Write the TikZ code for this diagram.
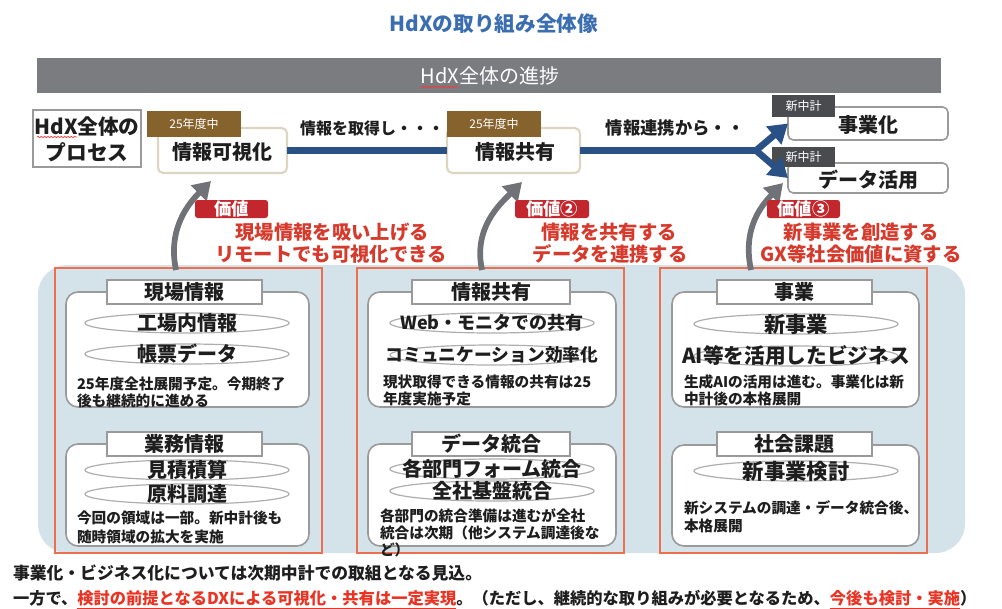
\documentclass[tikz,border=0pt]{standalone}
\usepackage{fontspec}
\setmainfont{Noto Sans CJK JP}
\usetikzlibrary{fit,arrows.meta,decorations.pathmorphing,shapes.geometric}
\definecolor{titleblue}{HTML}{3A6EB0}
\definecolor{bargray}{HTML}{7B7C80}
\definecolor{brownlab}{HTML}{86622C}
\definecolor{darklab}{HTML}{4A4B4F}
\definecolor{navy}{HTML}{2A5186}
\definecolor{arrowgray}{HTML}{6F7277}
\definecolor{valred}{HTML}{C1272D}
\definecolor{textred}{HTML}{D63A2C}
\definecolor{areablue}{HTML}{D4E3EA}
\definecolor{orangeline}{HTML}{EC7050}
\definecolor{beige}{HTML}{DDD5C2}
\definecolor{panelline}{HTML}{9A9A9A}
\definecolor{linkred}{HTML}{EA3323}
\definecolor{txt}{HTML}{1E1E1E}
\newcommand\fsz[2]{\fontsize{#1}{#2}\selectfont}
\tikzset{
 every node/.style={inner sep=0pt, outer sep=0pt, text=txt},
 boxfit/.style={inner sep=0pt},
 tag/.style={boxfit},
 tagtext/.style={text=white, font=\fsz{9}{10}},
 stepbox/.style={boxfit, draw=beige, line width=1.6pt, rounded corners=4pt, fill=white},
 outbox/.style={boxfit, draw=panelline, line width=1.2pt, fill=white},
 bigtext/.style={font=\fsz{15}{18}\bfseries},
 badge/.style={boxfit, fill=valred, rounded corners=2pt},
 badgetext/.style={text=white, font=\fsz{13}{14}\bfseries},
 valtext/.style={text=textred, font=\fsz{14.5}{17}\bfseries},
 column/.style={boxfit, draw=orangeline, line width=1pt},
 panel/.style={boxfit, draw=panelline, line width=1.2pt, rounded corners=9pt, fill=white},
 header/.style={boxfit, draw=panelline, line width=0.9pt, fill=white},
 oval/.style={ellipse, draw=panelline!80, line width=0.9pt, minimum width=153pt, minimum height=15pt, inner sep=0pt},
 ovaltext/.style={font=\fsz{15}{18}\bfseries},
 note/.style={anchor=west, font=\fsz{11}{13}\bfseries},
 uparrow/.style={draw=arrowgray, line width=4.3pt, -{Triangle[length=13pt,width=16pt]}},
 flow/.style={draw=navy, line width=5pt},
 flowhead/.style={flow, -{Triangle[length=14pt,width=17pt]}},
 wavy/.style={draw=red!80, line width=0.5pt, decorate, decoration={snake, amplitude=0.5pt, segment length=2.5pt}}
}
\begin{document}
\begin{tikzpicture}[x=0.75pt,y=-0.75pt]
\useasboundingbox (0,0) rectangle (1002,608);
% title
\node[text=titleblue, font=\fsz{15.5}{18}\bfseries] (title) at (494,24) {HdXの取り組み全体像};
% progress bar
\node[boxfit, fill=bargray, fit={(37,58)(941,93)}] (bar) {};
\node[text=white, font=\fsz{15}{18}] (bartext) at (490,76) {HdX全体の進捗};
\draw[wavy] (421,87) -- (458,87);
% process box
\node[outbox, fit={(33,110)(141,167)}] (proc) {};
\node[align=center, font=\fsz{15.5}{19.5}\bfseries] (proct) at (87,139) {HdX全体の\\プロセス};
\draw[wavy] (37,137) -- (77,137);
% steps
\node[stepbox, fit={(158,128)(287,173)}] (s1) {};
\node[bigtext] (s1t) at (222,152) {情報可視化};
\node[tag, fill=brownlab, fit={(147,111)(241,137)}] (t1) {};
\node[tagtext] (t1t) at (t1.center) {25年度中};
\node[stepbox, fit={(447,128)(580,173)}] (s2) {};
\node[bigtext] (s2t) at (515,152) {情報共有};
\node[tag, fill=brownlab, fit={(447,111)(541,137)}] (t2) {};
\node[tagtext] (t2t) at (t2.center) {25年度中};
\node[font=\fsz{12}{14}\bfseries] (l1) at (372,128) {情報を取得し・・・};
\node[font=\fsz{13}{15}\bfseries] (l2) at (675,128) {情報連携から・・};
\node[outbox, rounded corners=4pt, fit={(788,107)(948,140)}] (b1) {};
\node[bigtext] (b1t) at (868,125) {事業化};
\node[tag, fill=darklab, fit={(772,95)(835,117)}] (t3) {};
\node[tagtext] (t3t) at (t3.center) {新中計};
\node[outbox, rounded corners=4pt, fit={(788,163)(948,193)}] (b2) {};
\node[bigtext] (b2t) at (868,180) {データ活用};
\node[tag, fill=darklab, fit={(772,147)(835,167)}] (t4) {};
\node[tagtext] (t4t) at (t4.center) {新中計};
% flow connectors
\coordinate (fork) at (756,150.5);
\draw[flow] (s1.east) -- (s2.west);
\draw[flow] (s2.east) -- (fork);
\draw[flowhead] (fork) -- (b1.west);
\draw[flowhead] (fork) -- (b2.west);
% blue area and columns
\node[boxfit, fill=areablue, rounded corners=22pt, fit={(38,265)(965,553)}] (area) {};
\node[column, fit={(55,268)(322,553)}] (c1) {};
\node[column, fit={(357,268)(624,553)}] (c2) {};
\node[column, fit={(660,268)(927,553)}] (c3) {};
% value arrows
\coordinate (u1s) at (176,270); \coordinate (u1e) at (211,181);
\coordinate (u2s) at (482,270); \coordinate (u2e) at (522,182);
\coordinate (u3s) at (751,270); \coordinate (u3e) at (783,183);
\draw[uparrow] (u1s) .. controls (167,228) and (190,202) .. (u1e);
\draw[uparrow] (u2s) .. controls (473,228) and (500,204) .. (u2e);
\draw[uparrow] (u3s) .. controls (742,228) and (762,205) .. (u3e);
% value badges and texts
\node[badge, fit={(195,200)(268,218)}] (v1) {};
\node[badgetext] (v1t) at (v1.center) {価値};
\node[badge, fit={(515,200)(589,218)}] (v2) {};
\node[badgetext] (v2t) at (v2.center) {価値②};
\node[badge, fit={(767,200)(840,218)}] (v3) {};
\node[badgetext] (v3t) at (v3.center) {価値③};
\node[valtext] (vt1a) at (332,232) {現場情報を吸い上げる};
\node[valtext] (vt1b) at (331,254) {リモートでも可視化できる};
\node[valtext] (vt2a) at (609,232) {情報を共有する};
\node[valtext] (vt2b) at (610,254) {データを連携する};
\node[valtext] (vt3a) at (861,232) {新事業を創造する};
\node[valtext] (vt3b) at (861,254) {GX等社会価値に資する};
% column 1
\node[panel, fit={(66,292)(309,407)}] (p1a) {};
\node[header, fit={(107,280)(262,304)}] (h1a) {};
\node[bigtext] (h1at) at (h1a.center) {現場情報};
\node[oval] (e1a) at (187,323) {};
\node[ovaltext] (e1at) at (e1a) {工場内情報};
\node[oval] (e1b) at (187,354) {};
\node[ovaltext] (e1bt) at (e1b) {帳票データ};
\node[note] (n1a) at (77,384) {25年度全社展開予定。今期終了};
\node[note] (n1b) at (77,401) {後も継続的に進める};
\node[panel, fit={(66,444)(309,546)}] (p1b) {};
\node[header, fit={(107,432)(262,456)}] (h1b) {};
\node[bigtext] (h1bt) at (h1b.center) {業務情報};
\node[oval] (e1c) at (187,470) {};
\node[ovaltext] (e1ct) at (e1c) {見積積算};
\node[oval] (e1d) at (187,494) {};
\node[ovaltext] (e1dt) at (e1d) {原料調達};
\node[note] (n1c) at (77,518) {今回の領域は一部。新中計後も};
\node[note] (n1d) at (77,537) {随時領域の拡大を実施};
% column 2
\node[panel, fit={(368,292)(616,407)}] (p2a) {};
\node[header, fit={(412,280)(570,304)}] (h2a) {};
\node[bigtext] (h2at) at (h2a.center) {情報共有};
\node[oval] (e2a) at (492,323) {};
\node[ovaltext, font=\fsz{13.5}{16}\bfseries] (e2at) at (e2a) {Web・モニタでの共有};
\node[oval] (e2b) at (492,355) {};
\node[ovaltext, font=\fsz{13.3}{16}\bfseries] (e2bt) at (e2b) {コミュニケーション効率化};
\node[note] (n2a) at (383,382) {現状取得できる情報の共有は25};
\node[note] (n2b) at (383,399) {年度実施予定};
\node[panel, fit={(368,444)(616,546)}] (p2b) {};
\node[header, fit={(412,432)(570,456)}] (h2b) {};
\node[bigtext] (h2bt) at (h2b.center) {データ統合};
\node[oval] (e2c) at (492,469) {};
\node[ovaltext] (e2ct) at (e2c) {各部門フォーム統合};
\node[oval] (e2d) at (492,491) {};
\node[ovaltext] (e2dt) at (e2d) {全社基盤統合};
\node[note] (n2c) at (380,516) {各部門の統合準備は進むが全社};
\node[note] (n2d) at (380,533) {統合は次期（他システム調達後な};
\node[note] (n2e) at (380,550) {ど）};
% column 3
\node[panel, fit={(672,292)(919,407)}] (p3a) {};
\node[header, fit={(717,280)(872,304)}] (h3a) {};
\node[bigtext] (h3at) at (h3a.center) {事業};
\node[oval] (e3a) at (796,324) {};
\node[ovaltext, font=\fsz{16}{18}\bfseries] (e3at) at (e3a) {新事業};
\node[oval] (e3b) at (796,356) {};
\node[ovaltext, font=\fsz{15.5}{18}\bfseries] (e3bt) at (e3b) {AI等を活用したビジネス};
\node[note] (n3a) at (684,382) {生成AIの活用は進む。事業化は新};
\node[note] (n3b) at (684,399) {中計後の本格展開};
\node[panel, fit={(672,445)(919,546)}] (p3b) {};
\node[header, fit={(717,432)(872,456)}] (h3b) {};
\node[bigtext] (h3bt) at (h3b.center) {社会課題};
\node[oval] (e3c) at (796,471) {};
\node[ovaltext, font=\fsz{16}{18}\bfseries] (e3ct) at (e3c) {新事業検討};
\node[note] (n3c) at (684,508) {新システムの調達・データ統合後、};
\node[note] (n3d) at (684,526) {本格展開};
% bottom text
\node[anchor=west, font=\fsz{12.6}{14}\bfseries] (bt1) at (13,573) {事業化・ビジネス化については次期中計での取組となる見込。};
\node[anchor=west, font=\fsz{12.2}{14}\bfseries] (bt2) at (13,600) {一方で、\textcolor{linkred}{\underline{検討の前提となるDXによる可視化・共有は一定実現}}。（ただし、継続的な取り組みが必要となるため、\textcolor{linkred}{\underline{今後も検討・実施}}）};
\end{tikzpicture}
\end{document}
